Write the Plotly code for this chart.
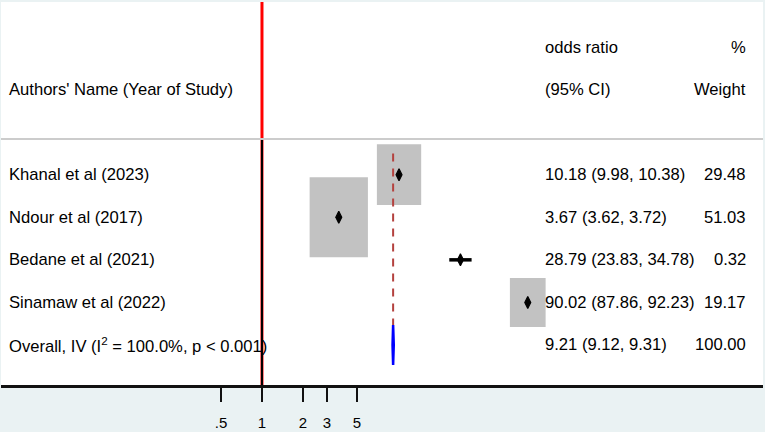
import numpy as np
import plotly.graph_objects as go

# ---------------- data ----------------
studies = ["Khanal et al (2023)", "Ndour et al (2017)", "Bedane et al (2021)", "Sinamaw et al (2022)"]
odds_ratio = [10.18, 3.67, 28.79, 90.02]
ci_low = [9.98, 3.62, 23.83, 87.86]
ci_high = [10.38, 3.72, 34.78, 92.23]
weights = [29.48, 51.03, 0.32, 19.17]

overall_label = "Overall, IV (I<sup>2</sup> = 100.0%, p &lt; 0.001)"
overall_or = 9.21
overall_low = 9.12
overall_high = 9.31
overall_weight = 100.00

tick_vals = [0.5, 1, 2, 3, 5]
tick_text = [".5", "1", "2", "3", "5"]

# ---------------- layout constants ----------------
FONT = "Liberation Sans, Arial, sans-serif"
FS = 16.6
STUDY_ROWS = [3, 4, 5, 6]
OVERALL_ROW = 7
SEP_ROW = 2.16
DASH_TOP = 2.5
DIAMOND_HALF_H = 0.47
BOX_HH = 0.1315   # half-height (rows) per sqrt(weight)
BOX_HW = 0.0300   # half-width (decades) per sqrt(weight)
Y_RANGE = [7.94, -1.057]
X_RANGE = [-1.919, 3.684]
COL_NAME = 0.0085
COL_STAT = 0.7113
COL_WEIGHT = 0.9803

fig = go.Figure()

# red reference line (full height)
fig.add_trace(go.Scatter(x=[1, 1], y=[-3, 10], mode="lines",
                         line=dict(color="#ff0000", width=3), hoverinfo="skip"))
# black null line (data area)
fig.add_trace(go.Scatter(x=[1, 1], y=[SEP_ROW, 10], mode="lines",
                         line=dict(color="#000000", width=2), hoverinfo="skip"))

# weight boxes
for r, est, w in zip(STUDY_ROWS, odds_ratio, weights):
    s = np.sqrt(w)
    hh = BOX_HH * s
    hw = BOX_HW * s
    x0, x1 = est * 10 ** (-hw), est * 10 ** hw
    fig.add_trace(go.Scatter(x=[x0, x1, x1, x0, x0], y=[r - hh, r - hh, r + hh, r + hh, r - hh],
                             mode="lines", fill="toself", fillcolor="#c2c2c2",
                             line=dict(width=0, color="#c2c2c2"), hoverinfo="skip"))

# overall dashed line
fig.add_trace(go.Scatter(x=[overall_or, overall_or], y=[DASH_TOP, OVERALL_ROW - DIAMOND_HALF_H],
                         mode="lines", line=dict(color="#b4423f", width=2, dash="8px,7px"),
                         hoverinfo="skip"))

# confidence intervals
for r, lo, hi in zip(STUDY_ROWS, ci_low, ci_high):
    fig.add_trace(go.Scatter(x=[lo, hi], y=[r, r], mode="lines",
                             line=dict(color="#000000", width=3.5), hoverinfo="skip"))

# point estimates
fig.add_trace(go.Scatter(x=odds_ratio, y=STUDY_ROWS, mode="markers",
                         marker=dict(symbol="diamond-tall", size=8.5, color="#000000",
                                     line=dict(color="#000000", width=1.2)),
                         hoverinfo="skip"))

# overall diamond
fig.add_trace(go.Scatter(x=[overall_low, overall_or, overall_high, overall_or, overall_low],
                         y=[OVERALL_ROW, OVERALL_ROW - DIAMOND_HALF_H, OVERALL_ROW,
                            OVERALL_ROW + DIAMOND_HALF_H, OVERALL_ROW],
                         mode="lines", fill="toself", fillcolor="#0000ff",
                         line=dict(color="#0000ff", width=2.5), hoverinfo="skip"))

# separator line
fig.add_shape(type="line", xref="paper", yref="y", x0=0, x1=1, y0=SEP_ROW, y1=SEP_ROW,
              line=dict(color="#cccccc", width=2))

annots = []

def txt(x, y, s, anchor):
    annots.append(dict(x=x, y=y, xref="paper", yref="y", text=s, showarrow=False,
                       xanchor=anchor, yanchor="middle",
                       font=dict(family=FONT, size=FS, color="#000000")))

txt(COL_STAT, 0, "odds ratio", "left")
txt(COL_WEIGHT, 0, "%", "right")
txt(COL_NAME, 1, "Authors' Name (Year of Study)", "left")
txt(COL_STAT, 1, "(95% CI)", "left")
txt(COL_WEIGHT, 1, "Weight", "right")

for r, name, est, lo, hi, w in zip(STUDY_ROWS, studies, odds_ratio, ci_low, ci_high, weights):
    txt(COL_NAME, r, name, "left")
    txt(COL_STAT, r, f"{est:.2f} ({lo:.2f}, {hi:.2f})", "left")
    txt(COL_WEIGHT, r, f"{w:.2f}", "right")

txt(COL_NAME, OVERALL_ROW, overall_label, "left")
txt(COL_STAT, OVERALL_ROW, f"{overall_or:.2f} ({overall_low:.2f}, {overall_high:.2f})", "left")
txt(COL_WEIGHT, OVERALL_ROW, f"{overall_weight:.2f}", "right")

fig.update_layout(
    width=765, height=432,
    margin=dict(l=1, r=2, t=2, b=47, pad=0),
    paper_bgcolor="#eaf2f3", plot_bgcolor="#ffffff",
    showlegend=False,
    annotations=annots,
    xaxis=dict(type="log", range=X_RANGE, tickvals=tick_vals, ticktext=tick_text,
               showgrid=False, zeroline=False, showline=True, linecolor="#111111",
               linewidth=2.5, ticks="outside", ticklen=14, tickwidth=2, tickcolor="#111111",
               ticklabelstandoff=8,
               tickfont=dict(family=FONT, size=15, color="#000000")),
    yaxis=dict(range=Y_RANGE, visible=False, showgrid=False, zeroline=False),
)

fig.write_html("out.html")
